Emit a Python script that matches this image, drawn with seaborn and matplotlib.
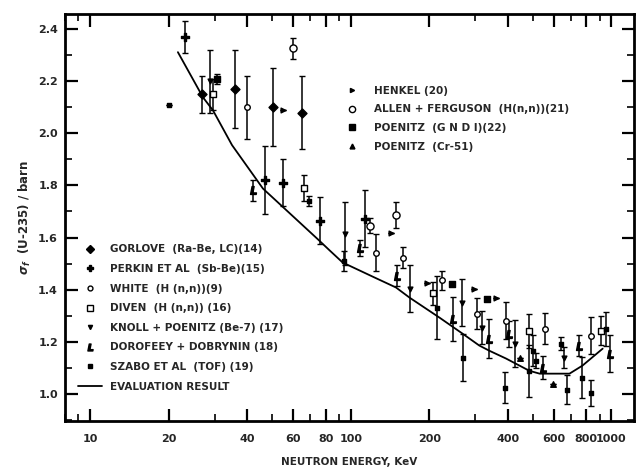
import numpy as np
import pandas as pd
import seaborn as sns
import matplotlib
matplotlib.use("Agg")
import matplotlib.pyplot as plt
from matplotlib.lines import Line2D

# ---------------- data ----------------
eval_e = [21.7, 27.1, 29.6, 35.0, 46.0, 74.2, 83.0, 93.0, 123.5, 149.0, 168.0, 219.0,
          268.0, 311.0, 340.0, 394.0, 484.0, 530.0, 690.0, 774.0, 925.0]
eval_s = [2.312, 2.138, 2.088, 1.955, 1.788, 1.596, 1.55, 1.504, 1.446, 1.408, 1.369, 1.292,
          1.231, 1.185, 1.165, 1.135, 1.088, 1.077, 1.077, 1.108, 1.173]

gorlove_e = [26.8, 35.9, 50.2, 64.9]
gorlove_s = [2.15, 2.17, 2.10, 2.08]
gorlove_err = [0.07, 0.15, 0.15, 0.14]

perkin_e = [23.1, 46.8, 55.0, 76.0, 113.0]
perkin_s = [2.37, 1.82, 1.81, 1.665, 1.673]
perkin_err = [0.06, 0.13, 0.09, 0.09, 0.11]

white_e = [40.0, 125.0, 158.0, 223.0, 305.0, 394.0, 554.0, 838.0]
white_s = [2.10, 1.542, 1.523, 1.435, 1.308, 1.281, 1.25, 1.223]
white_err = [0.12, 0.07, 0.04, 0.035, 0.06, 0.07, 0.06, 0.07]

diven_e = [29.5, 66.0, 206.0, 484.0, 913.0]
diven_s = [2.15, 1.79, 1.385, 1.242, 1.242]
diven_err = [0.06, 0.05, 0.045, 0.065, 0.055]

knoll_e = [28.8, 94.8, 168.0, 268.0, 318.0, 425.0, 660.0]
knoll_s = [2.20, 1.615, 1.404, 1.35, 1.254, 1.192, 1.138]
knoll_err = [0.12, 0.12, 0.09, 0.09, 0.065, 0.09, 0.04]

dorofeey_e = [42.2, 108.0, 151.0, 247.0, 340.0, 405.0, 545.0, 750.0, 983.0]
dorofeey_s = [1.781, 1.56, 1.454, 1.288, 1.212, 1.231, 1.10, 1.185, 1.154]
dorofeey_err = [0.04, 0.03, 0.04, 0.085, 0.075, 0.05, 0.045, 0.04, 0.07]

szabo_e = [20.0, 69.0, 94.0, 215.0, 270.0, 390.0, 484.0, 500.0, 515.0, 640.0, 675.0, 770.0, 838.0, 950.0]
szabo_s = [2.11, 1.74, 1.51, 1.331, 1.138, 1.023, 1.088, 1.165, 1.127, 1.192, 1.015, 1.062, 1.004, 1.25]
szabo_err = [0.0, 0.02, 0.04, 0.12, 0.09, 0.06, 0.10, 0.06, 0.03, 0.025, 0.055, 0.08, 0.05, 0.065]

henkel_e = [55.0, 143.0, 196.0, 298.0, 362.0]
henkel_s = [2.09, 1.619, 1.427, 1.404, 1.369]

allen_e = [60.0, 118.0, 149.0]
allen_s = [2.327, 1.646, 1.685]
allen_err = [0.04, 0.03, 0.05]

gndi_e = [30.7, 244.0, 334.0]
gndi_s = [2.208, 1.423, 1.365]
gndi_err = [0.02, 0.0, 0.0]

cr51_e = [445.0, 594.0]
cr51_s = [1.138, 1.038]

x_ticks = [10, 20, 40, 60, 80, 100, 200, 400, 600, 800, 1000]
x_ticklabels = ["10", "20", "40", "60", "80", "100", "200", "400", "600", "800", "1000"]
y_ticks = [1.0, 1.2, 1.4, 1.6, 1.8, 2.0, 2.2, 2.4]
y_ticklabels = ["1.0", "1.2", "1.4", "1.6", "1.8", "2.0", "2.2", "2.4"]

# ---------------- plot ----------------
sns.set_theme(style="white")
plt.rcParams['font.family'] = ['DejaVu Sans']
plt.rcParams['font.weight'] = 'bold'

fig = plt.figure(figsize=(6.43, 4.72), dpi=100)
ax = fig.add_axes([0.101, 0.108, 0.885, 0.862])

FS = 7.5

series = [
    # name, e, s, err, marker, size, facecolor, legend group
    ("GORLOVE  (Ra-Be, LC)(14)", gorlove_e, gorlove_s, gorlove_err, "D", 4, "black", 1),
    ("PERKIN ET AL  (Sb-Be)(15)", perkin_e, perkin_s, perkin_err, "P", 5, "black", 1),
    ("WHITE  (H (n,n))(9)", white_e, white_s, white_err, "o", 3.5, "white", 1),
    ("DIVEN  (H (n,n)) (16)", diven_e, diven_s, diven_err, "s", 4, "white", 1),
    ("KNOLL + POENITZ (Be-7) (17)", knoll_e, knoll_s, knoll_err, "v", 3, "black", 1),
    ("DOROFEEY + DOBRYNIN (18)", dorofeey_e, dorofeey_s, dorofeey_err, "$L$", 5, "black", 1),
    ("SZABO ET AL  (TOF) (19)", szabo_e, szabo_s, szabo_err, "s", 2.5, "black", 1),
    ("HENKEL (20)", henkel_e, henkel_s, [0.0] * len(henkel_e), ">", 3, "black", 2),
    ("ALLEN + FERGUSON  (H(n,n))(21)", allen_e, allen_s, allen_err, "o", 4.5, "white", 2),
    ("POENITZ  (G N D I)(22)", gndi_e, gndi_s, gndi_err, "s", 4, "black", 2),
    ("POENITZ  (Cr-51)", cr51_e, cr51_s, [0.0] * len(cr51_e), "^", 3.5, "black", 2),
]

h1, h2 = [], []
for name, e, s, err, mk, ms, fc, grp in series:
    ax.errorbar(e, s, yerr=err, fmt="none", ecolor="black", elinewidth=1.1,
                capsize=2, capthick=1.0, zorder=2)
    df = pd.DataFrame({"e": e, "s": s})
    sns.scatterplot(data=df, x="e", y="s", ax=ax, marker=mk, s=ms ** 2 * 1.3,
                    color=fc, edgecolor="black", linewidth=1.0, zorder=3, legend=False)
    h = Line2D([], [], ls="none", marker=mk, ms=ms, mfc=fc, mec="black", mew=1.0, color="black")
    (h1 if grp == 1 else h2).append((h, name))

df_eval = pd.DataFrame({"e": eval_e, "s": eval_s})
sns.lineplot(data=df_eval, x="e", y="s", ax=ax, color="black", lw=1.3, zorder=4)
h1.append((Line2D([], [], color="black", lw=1.3), "EVALUATION RESULT"))

ax.set_xscale("log")
ax.set_xlim(8.0, 1220)
ax.set_ylim(0.895, 2.458)

ax.set_xticks(x_ticks)
ax.set_xticklabels(x_ticklabels, fontsize=FS + 0.5, fontweight="bold")
ax.xaxis.set_minor_locator(matplotlib.ticker.LogLocator(base=10, subs=np.arange(1, 10) * 1.0, numticks=20))
ax.xaxis.set_minor_formatter(matplotlib.ticker.NullFormatter())
ax.set_yticks(y_ticks)
ax.set_yticklabels(y_ticklabels, fontsize=FS + 0.5, fontweight="bold")
ax.yaxis.set_minor_locator(matplotlib.ticker.MultipleLocator(0.1))

ax.tick_params(axis="x", which="major", pad=9)
ax.tick_params(axis="y", which="major", pad=5)
ax.tick_params(which="major", direction="in", length=9, width=1.6, top=True, right=True, bottom=True, left=True, color="black")
ax.tick_params(which="minor", direction="in", length=5, width=1.2, top=True, right=True, bottom=True, left=True, color="black")
for sp in ax.spines.values():
    sp.set_linewidth(2.0)
    sp.set_color("black")

ax.set_xlabel("NEUTRON ENERGY, KeV", fontsize=FS, fontweight="bold", labelpad=10)
ax.set_ylabel(r"$\sigma_f$  (U-235) / barn", fontsize=FS + 1, fontweight="bold", labelpad=4)

leg1 = ax.legend([h for h, _ in h1], [n for _, n in h1], loc="lower left",
                 bbox_to_anchor=(0.012, 0.057), frameon=False, fontsize=FS,
                 handlelength=2.3, handletextpad=0.8, labelspacing=0.92, borderaxespad=0.2)
for t in leg1.get_texts():
    t.set_fontweight("bold")
ax.add_artist(leg1)
leg2 = ax.legend([h for h, _ in h2], [n for _, n in h2], loc="upper left",
                 bbox_to_anchor=(0.48, 0.84), frameon=False, fontsize=FS,
                 handlelength=1.5, handletextpad=1.3, labelspacing=0.84, borderaxespad=0.2)
for t in leg2.get_texts():
    t.set_fontweight("bold")

fig.savefig("out.png", dpi=100, facecolor="white")
